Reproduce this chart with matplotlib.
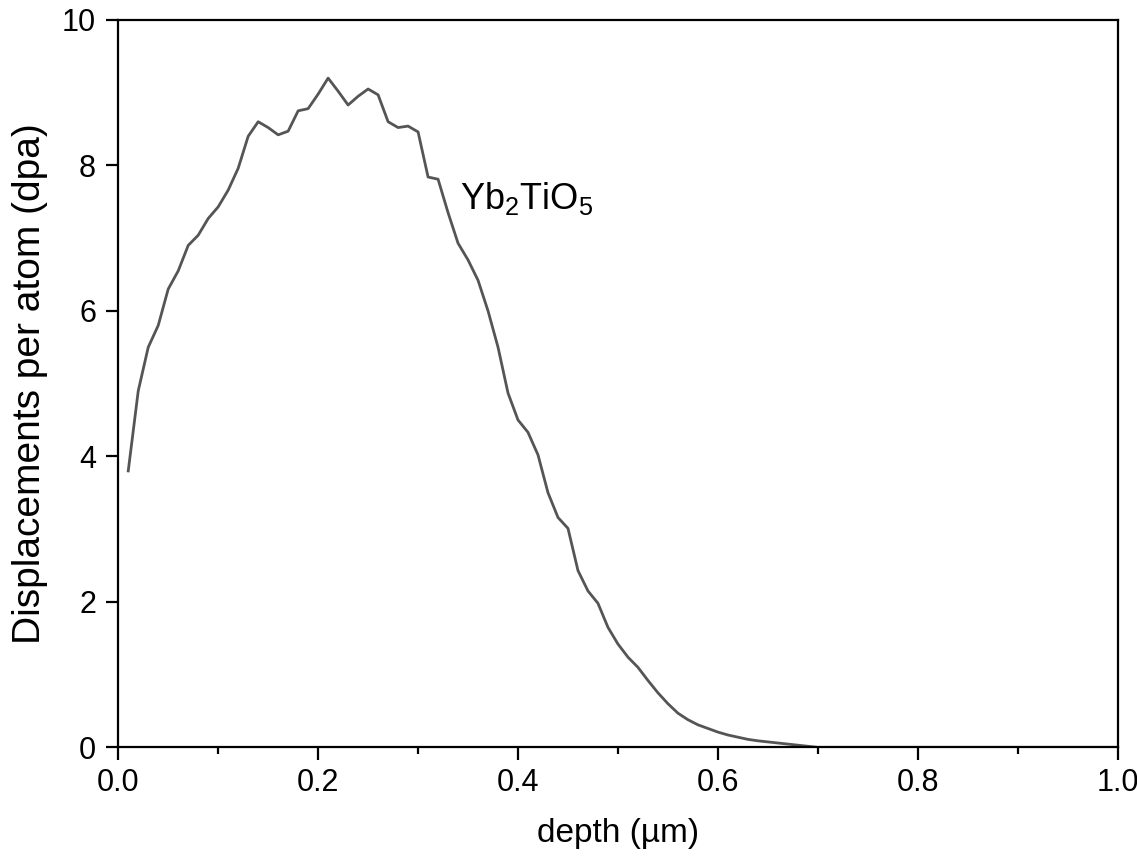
import numpy as np
import matplotlib
matplotlib.use("Agg")
import matplotlib.pyplot as plt
from matplotlib.ticker import MultipleLocator

plt.rcParams['font.family'] = ['Liberation Sans', 'DejaVu Sans']
plt.rcParams['mathtext.fontset'] = 'custom'
plt.rcParams['mathtext.rm'] = 'Liberation Sans'
plt.rcParams['mathtext.it'] = 'Liberation Sans'
plt.rcParams['mathtext.default'] = 'regular'

# Tiefe in µm (0.01er Schritte) und dpa-Werte
depth = [0.01, 0.02, 0.03, 0.04, 0.05, 0.06, 0.07, 0.08, 0.09, 0.10,
         0.11, 0.12, 0.13, 0.14, 0.15, 0.16, 0.17, 0.18, 0.19, 0.20,
         0.21, 0.22, 0.23, 0.24, 0.25, 0.26, 0.27, 0.28, 0.29, 0.30,
         0.31, 0.32, 0.33, 0.34, 0.35, 0.36, 0.37, 0.38, 0.39, 0.40,
         0.41, 0.42, 0.43, 0.44, 0.45, 0.46, 0.47, 0.48, 0.49, 0.50,
         0.51, 0.52, 0.53, 0.54, 0.55, 0.56, 0.57, 0.58, 0.59, 0.60,
         0.61, 0.62, 0.63, 0.64, 0.65, 0.66, 0.67, 0.68, 0.69, 0.70,
         0.75, 0.80, 0.85, 0.90, 0.95, 1.00]
dpa = [3.80, 4.90, 5.50, 5.80, 6.30, 6.55, 6.90, 7.04, 7.27, 7.43,
       7.66, 7.96, 8.40, 8.60, 8.52, 8.42, 8.47, 8.75, 8.78, 8.98,
       9.20, 9.02, 8.83, 8.95, 9.05, 8.97, 8.60, 8.52, 8.54, 8.46,
       7.84, 7.81, 7.35, 6.93, 6.70, 6.42, 6.00, 5.50, 4.87, 4.50,
       4.33, 4.02, 3.50, 3.16, 3.01, 2.43, 2.15, 1.98, 1.65, 1.42,
       1.24, 1.10, 0.92, 0.75, 0.60, 0.47, 0.38, 0.31, 0.26, 0.21,
       0.17, 0.14, 0.11, 0.09, 0.075, 0.06, 0.045, 0.03, 0.015, 0.0,
       0.0, 0.0, 0.0, 0.0, 0.0, 0.0]

fig = plt.figure(figsize=(11.37, 8.65), dpi=100)
ax = fig.add_axes([0.104, 0.136, 0.879, 0.841])

ax.plot(depth, dpa, color="#555555", linewidth=2.0)

ax.set_xlim(0, 1.0)
ax.set_ylim(0, 10)
ax.xaxis.set_major_locator(MultipleLocator(0.2))
ax.xaxis.set_minor_locator(MultipleLocator(0.1))
ax.yaxis.set_major_locator(MultipleLocator(2))
ax.xaxis.set_major_formatter(matplotlib.ticker.FormatStrFormatter("%.1f"))

for s in ax.spines.values():
    s.set_linewidth(1.6)
ax.tick_params(which="major", direction="out", length=9, width=1.6,
               labelsize=22, pad=6)
ax.tick_params(which="minor", direction="out", length=5, width=1.6)
ax.tick_params(axis="y", pad=7)

ax.set_xlabel("depth (µm)", fontsize=24, labelpad=14)
ax.set_ylabel("Displacements per atom (dpa)", fontsize=28, labelpad=10)

ax.text(0.342, 7.55, r"Yb$_2$TiO$_5$", fontsize=26, va="center", ha="left")

fig.savefig("out.png", dpi=100)
